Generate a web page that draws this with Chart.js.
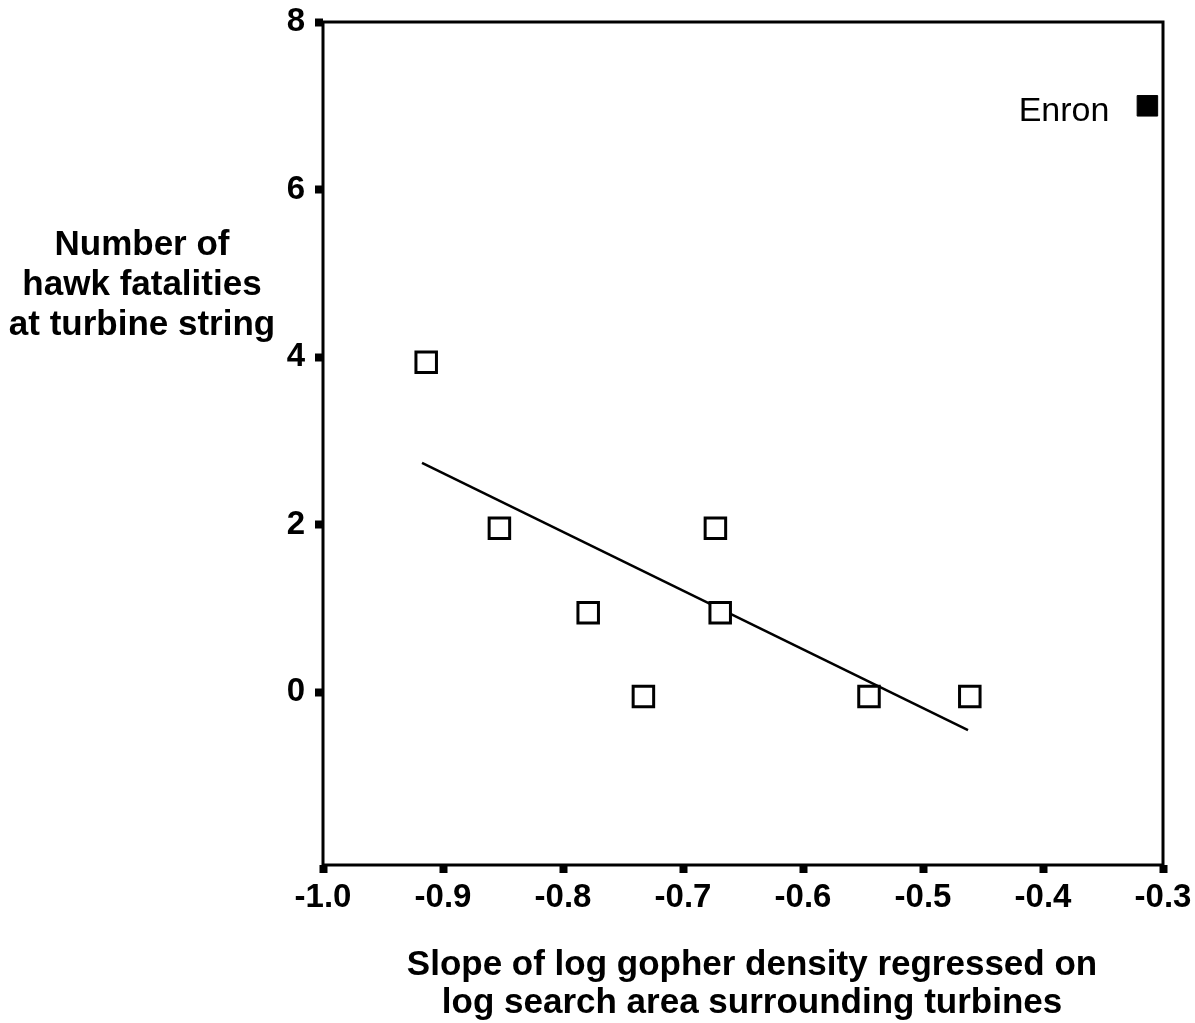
<!DOCTYPE html>
<html>
<head>
<meta charset="utf-8">
<script src="https://cdn.jsdelivr.net/npm/chart.js@4"></script>
<style>
  html, body { margin: 0; padding: 0; background: #fff; }
  #wrap { width: 1195px; height: 1023px; }
</style>
</head>
<body>
<div id="wrap"><canvas id="chart" width="1195" height="1023"></canvas></div>
<script>
// turbine strings (open squares)
var slopes = [-0.914, -0.853, -0.779, -0.733, -0.673, -0.669, -0.545, -0.461];
var fatalities = [3.94, 1.96, 0.95, -0.05, 1.96, 0.95, -0.05, -0.05];

// Enron string (filled square)
var enronSlope = [-0.313];
var enronFatalities = [7.0];
var enronLabel = 'Enron';

// fitted regression line end points
var fitX = [-0.9175, -0.4625];
var fitY = [2.74, -0.45];

var xTicks = [-1.0, -0.9, -0.8, -0.7, -0.6, -0.5, -0.4, -0.3];
var yTicks = [0, 2, 4, 6, 8];

var xTitle = ['Slope of log gopher density regressed on', 'log search area surrounding turbines'];
var yTitle = ['Number of', 'hawk fatalities', 'at turbine string'];

function toPoints(xs, ys) {
    return xs.map(function (x, i) { return {x: x, y: ys[i]}; });
}

var FONT = '"Liberation Sans", Arial, sans-serif';

var boxAndText = {
    id: 'boxAndText',
    afterDraw: function (chart) {
        var ctx = chart.ctx;
        var a = chart.chartArea;
        ctx.save();
        ctx.strokeStyle = '#000';
        ctx.lineWidth = 3;
        ctx.strokeRect(a.left, a.top, a.right - a.left, a.bottom - a.top);

        ctx.fillStyle = '#000';
        ctx.textAlign = 'center';
        ctx.textBaseline = 'alphabetic';
        ctx.font = 'bold 35px ' + FONT;
        yTitle.forEach(function (line, i) {
            ctx.fillText(line, 142, 255 + i * 40);
        });
        xTitle.forEach(function (line, i) {
            ctx.fillText(line, 752, 975 + i * 38);
        });

        // Enron label next to its point
        var pt = chart.getDatasetMeta(1).data[0];
        ctx.font = '34px ' + FONT;
        ctx.textAlign = 'right';
        ctx.fillText(enronLabel, pt.x - 38, pt.y + 15);
        ctx.restore();
    }
};

var ctx = document.getElementById('chart').getContext('2d');
var chart = new Chart(ctx, {
    type: 'scatter',
    data: {
        datasets: [{
            label: 'strings',
            data: toPoints(slopes, fatalities),
            pointStyle: 'rect',
            pointRadius: 14.5,
            pointBorderWidth: 3,
            pointBorderColor: '#000',
            pointBackgroundColor: '#fff'
        }, {
            label: 'Enron',
            data: toPoints(enronSlope, enronFatalities),
            pointStyle: 'rect',
            pointRadius: 14.5,
            pointBorderWidth: 1,
            pointBorderColor: '#000',
            pointBackgroundColor: '#000'
        }, {
            label: 'fit',
            type: 'line',
            data: toPoints(fitX, fitY),
            borderColor: '#000',
            borderWidth: 2.5,
            pointRadius: 0,
            fill: false
        }]
    },
    options: {
        responsive: false,
        animation: false,
        events: [],
        layout: { padding: { left: 0, top: 22, right: 32, bottom: 0 } },
        plugins: {
            legend: { display: false },
            tooltip: { enabled: false }
        },
        scales: {
            x: {
                type: 'linear',
                min: -1.0,
                max: -0.3,
                afterFit: function (scale) {
                    scale.height = 158;
                    scale.paddingLeft = 0;
                    scale.paddingRight = 0;
                },
                afterBuildTicks: function (scale) {
                    scale.ticks = xTicks.map(function (v) { return {value: v}; });
                },
                ticks: {
                    color: '#000',
                    padding: 5,
                    font: { family: FONT, size: 33, weight: 'bold' },
                    callback: function (v) { return v.toFixed(1); }
                },
                grid: {
                    drawOnChartArea: false,
                    color: '#000',
                    tickLength: 8,
                    tickWidth: 8,
                    tickColor: '#000'
                },
                border: { display: false }
            },
            y: {
                type: 'linear',
                min: -2.06,
                max: 8,
                afterFit: function (scale) {
                    scale.width = 323;
                    scale.paddingTop = 0;
                    scale.paddingBottom = 0;
                },
                afterBuildTicks: function (scale) {
                    scale.ticks = yTicks.map(function (v) { return {value: v}; });
                },
                ticks: {
                    color: '#000',
                    padding: 10,
                    font: { family: FONT, size: 33, weight: 'bold' },
                    callback: function (v) { return String(v); }
                },
                grid: {
                    drawOnChartArea: false,
                    color: '#000',
                    tickLength: 8,
                    tickWidth: 8,
                    tickColor: '#000'
                },
                border: { display: false }
            }
        }
    },
    plugins: [boxAndText]
});
</script>
</body>
</html>
